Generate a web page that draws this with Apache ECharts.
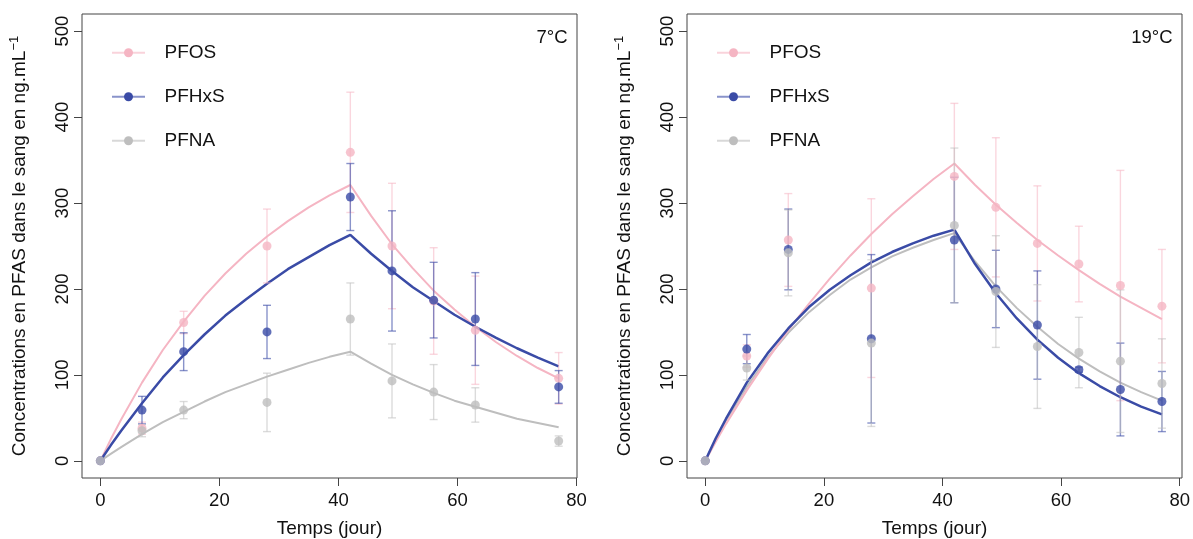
<!DOCTYPE html>
<html>
<head>
<meta charset="utf-8">
<script src="https://cdn.jsdelivr.net/npm/echarts@6/dist/echarts.min.js"></script>
<style>
  html, body { margin: 0; padding: 0; background: #fff; }
  #main { width: 1193px; height: 539px; }
</style>
</head>
<body>
<div id="main"></div>
<script>
const days7 = [0, 7, 14, 28, 42, 49, 56, 63, 77];
const pfos7 = [0, 38, 161, 250, 359, 250, 186, 152, 96];
const pfos7Err = [0, 7, 13, 43, 70, 73, 62, 63, 30];
const pfhxs7 = [0, 59, 127, 150, 307, 221, 187, 165, 86];
const pfhxs7Err = [0, 16, 22, 31, 39, 70, 44, 54, 19];
const pfna7 = [0, 35, 59, 68, 165, 93, 80, 65, 23];
const pfna7Err = [0, 7, 10, 34, 42, 43, 32, 20, 6];

const days19 = [0, 7, 14, 28, 42, 49, 56, 63, 70, 77];
const pfos19 = [0, 122, 257, 201, 331, 295, 253, 229, 204, 180];
const pfos19Err = [0, 13, 54, 104, 85, 81, 67, 44, 134, 66];
const pfhxs19 = [0, 130, 246, 142, 257, 200, 158, 106, 83, 69];
const pfhxs19Err = [0, 17, 47, 98, 73, 45, 63, 3, 54, 35];
const pfna19 = [0, 108, 242, 137, 274, 197, 133, 126, 116, 90];
const pfna19Err = [0, 14, 50, 97, 90, 65, 72, 41, 83, 52];

// model curves
const curveDays = [0, 1.75, 3.5, 7, 10.5, 14, 17.5, 21, 24.5, 28, 31.5, 35, 38.5, 42,
  45.5, 49, 52.5, 56, 59.5, 63, 66.5, 70, 73.5, 77];
const fitPfos7 = [0, 25, 48, 91, 129, 162, 192, 218, 241, 261, 279, 295, 309, 321,
  285, 252, 224, 198, 176, 156, 138, 122, 108, 96];
const fitPfhxs7 = [0, 18, 35, 67, 97, 123, 147, 169, 188, 206, 223, 237, 251, 263,
  241, 221, 202, 186, 170, 156, 143, 131, 120, 110];
const fitPfna7 = [0, 8, 16, 31, 45, 57, 69, 80, 89, 98, 106, 114, 121, 127,
  113, 100, 89, 79, 70, 63, 56, 49, 44, 39];
const fitPfos19 = [0, 22, 43, 82, 118, 152, 183, 212, 239, 264, 287, 308, 328, 346,
  321, 298, 277, 257, 239, 222, 206, 191, 178, 165];
const fitPfhxs19 = [0, 26, 49, 91, 125, 154, 179, 199, 216, 231, 243, 253, 262, 269,
  229, 195, 166, 141, 120, 102, 87, 74, 63, 54];
const fitPfna19 = [0, 24, 47, 86, 120, 149, 173, 193, 211, 225, 238, 248, 257, 265,
  232, 203, 178, 156, 136, 119, 104, 91, 80, 70];

const xTicks = [0, 20, 40, 60, 80];
const yTicks = [0, 100, 200, 300, 400, 500];

const names = ["PFOS", "PFHxS", "PFNA"];
const temps = ["7°C", "19°C"];

const font = "Liberation Sans, Arial, Helvetica, sans-serif";
const cols = ["#F5B5C3", "#3A4BA6", "#BEBEBE"];
const errCols = ["rgba(245,181,195,0.55)", "rgba(58,75,166,0.6)", "rgba(190,190,190,0.55)"];
const legCols = ["rgba(245,181,195,0.6)", "rgba(58,75,166,0.6)", "rgba(190,190,190,0.6)"];
const lineWidths = [2, 2.5, 2];

const panels = [
  { days: days7, obs: [[pfos7, pfos7Err], [pfhxs7, pfhxs7Err], [pfna7, pfna7Err]],
    fits: [fitPfos7, fitPfhxs7, fitPfna7], boxLeft: 82 },
  { days: days19, obs: [[pfos19, pfos19Err], [pfhxs19, pfhxs19Err], [pfna19, pfna19Err]],
    fits: [fitPfos19, fitPfhxs19, fitPfna19], boxLeft: 687 }
];

const chart = echarts.init(document.getElementById("main"));

const grids = [], xAxes = [], yAxes = [], series = [], graphics = [];

panels.forEach((p, gi) => {
  // plot region = R box (data range padded by 4%)
  grids.push({ left: p.boxLeft, width: 495, top: 14, height: 464 });
  xAxes.push({
    gridIndex: gi, type: "value", min: -3.08, max: 80.08,
    axisLine: { show: false, onZero: false }, splitLine: { show: false },
    axisTick: { customValues: xTicks, length: 8, lineStyle: { color: "#444", width: 1 } },
    axisLabel: { customValues: xTicks, fontSize: 18.5, fontFamily: font, color: "#111", margin: 13 }
  });
  yAxes.push({
    gridIndex: gi, type: "value", min: -20, max: 520,
    axisLine: { show: false, onZero: false }, splitLine: { show: false },
    axisTick: { show: true, customValues: yTicks, length: 8, lineStyle: { color: "#444", width: 1 } },
    axisLabel: { customValues: yTicks, fontSize: 18.5, fontFamily: font, color: "#111", margin: 10, rotate: 90 }
  });

  // curves: PFNA, PFOS, PFHxS (blue on top)
  [2, 0, 1].forEach(k => {
    series.push({
      type: "line", xAxisIndex: gi, yAxisIndex: gi, name: names[k],
      data: curveDays.map((d, i) => [d, p.fits[k][i]]),
      showSymbol: false, smooth: false, clip: false, silent: true, z: 2,
      lineStyle: { color: cols[k], width: lineWidths[k] }
    });
  });

  // error bars
  [0, 1, 2].forEach(k => {
    const [m, e] = p.obs[k];
    series.push({
      type: "custom", xAxisIndex: gi, yAxisIndex: gi, silent: true, clip: false, z: 3,
      data: p.days.map((d, i) => [d, m[i] - e[i], m[i] + e[i]]).filter(r => r[2] > r[1]),
      renderItem: (params, api) => {
        const lo = api.coord([api.value(0), api.value(1)]);
        const hi = api.coord([api.value(0), api.value(2)]);
        const w = 4;
        const st = { stroke: errCols[k], lineWidth: 1.4 };
        return {
          type: "group", children: [
            { type: "line", shape: { x1: lo[0], y1: lo[1], x2: hi[0], y2: hi[1] }, style: st },
            { type: "line", shape: { x1: lo[0] - w, y1: lo[1], x2: lo[0] + w, y2: lo[1] }, style: st },
            { type: "line", shape: { x1: hi[0] - w, y1: hi[1], x2: hi[0] + w, y2: hi[1] }, style: st }
          ]
        };
      }
    });
  });

  // points
  [0, 1, 2].forEach(k => {
    series.push({
      type: "scatter", xAxisIndex: gi, yAxisIndex: gi, name: names[k],
      data: p.days.map((d, i) => [d, p.obs[k][0][i]]),
      symbol: "circle", symbolSize: 9, clip: false, silent: true, z: 4,
      itemStyle: { color: cols[k] }
    });
  });

  // box
  graphics.push({
    type: "rect", shape: { x: p.boxLeft, y: 14, width: 495, height: 464 },
    style: { fill: "none", stroke: "#444", lineWidth: 1 }, z: 10
  });

  // legend
  [52.7, 96.7, 140.7].forEach((yy, k) => {
    graphics.push({
      type: "line", shape: { x1: p.boxLeft + 30, y1: yy, x2: p.boxLeft + 63, y2: yy },
      style: { stroke: legCols[k], lineWidth: 2 }, z: 10
    });
    graphics.push({
      type: "circle", shape: { cx: p.boxLeft + 46.5, cy: yy, r: 4.5 },
      style: { fill: cols[k] }, z: 10
    });
    graphics.push({
      type: "text", x: p.boxLeft + 82.5, y: yy,
      style: { text: names[k], font: "19px " + font, fill: "#111", align: "left", verticalAlign: "middle" },
      z: 10
    });
  });

  // temperature tag
  graphics.push({
    type: "text", x: p.boxLeft + 495 - 9.5, y: 38,
    style: { text: temps[gi], font: "18.5px " + font, fill: "#111", align: "right", verticalAlign: "middle" },
    z: 10
  });

  // axis titles
  graphics.push({
    type: "text", x: p.boxLeft + 247.5, y: 529,
    style: { text: "Temps (jour)", font: "19px " + font, fill: "#111", align: "center", verticalAlign: "middle" },
    z: 10
  });
  graphics.push({
    type: "text", x: p.boxLeft - 62, y: 246, rotation: Math.PI / 2,
    style: {
      text: "{a|Concentrations en PFAS dans le sang en ng.mL}{b|−1}",
      align: "center", verticalAlign: "middle",
      rich: {
        a: { fontSize: 19, fontFamily: font, fill: "#111", lineHeight: 24 },
        b: { fontSize: 13, fontFamily: font, fill: "#111", lineHeight: 24, verticalAlign: "top" }
      }
    },
    z: 10
  });
});

chart.setOption({
  animation: false,
  grid: grids,
  xAxis: xAxes,
  yAxis: yAxes,
  series: series,
  graphic: graphics
});
</script>
</body>
</html>
